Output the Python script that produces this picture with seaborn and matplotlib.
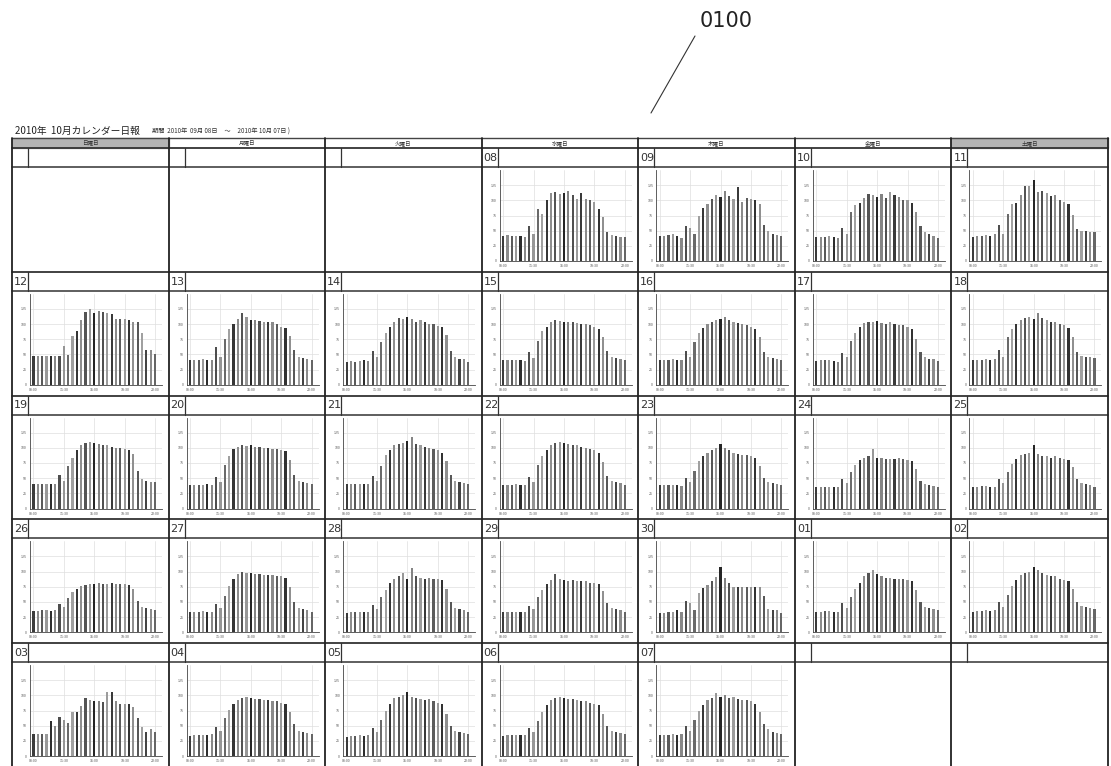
import matplotlib
matplotlib.use('Agg')
import matplotlib.pyplot as plt
import seaborn as sns

sns.set_style('white')
plt.rcParams['font.family'] = ['Noto Sans CJK JP', 'DejaVu Sans']

# Data
weekdays = ['日曜日', '月曜日', '火曜日', '水曜日', '木曜日', '金曜日', '土曜日']
slots = ['08:00', '08:30', '09:00', '09:30', '10:00', '10:30', '11:00', '11:30', '12:00', '12:30',
         '13:00', '13:30', '14:00', '14:30', '15:00', '15:30', '16:00', '16:30', '17:00', '17:30',
         '18:00', '18:30', '19:00', '19:30', '20:00', '20:30', '21:00', '21:30', '22:00']
x_ticklabels = ['08:00', '11:30', '15:00', '18:30', '22:00']
y_ticks = [0, 25, 50, 75, 100, 125]

d08 = [41, 43, 42, 42, 41, 40, 58, 45, 86, 78, 100, 112, 113, 110, 112, 116, 108, 102, 112, 103, 100, 98, 86, 72, 48, 43, 42, 40, 39]
d09 = [41, 41, 43, 45, 41, 38, 58, 54, 45, 75, 87, 94, 103, 108, 106, 115, 107, 103, 122, 97, 104, 102, 100, 94, 60, 50, 44, 43, 42]
d10 = [39, 40, 39, 41, 40, 38, 55, 44, 80, 92, 96, 104, 110, 108, 106, 110, 104, 113, 108, 106, 100, 101, 95, 80, 58, 48, 45, 42, 38]
d11 = [40, 42, 42, 43, 42, 44, 59, 45, 77, 94, 95, 108, 123, 123, 134, 113, 116, 112, 107, 108, 100, 98, 94, 76, 53, 50, 49, 48, 47]
d12 = [48, 48, 47, 47, 47, 47, 48, 64, 49, 80, 88, 106, 120, 125, 118, 122, 120, 118, 117, 109, 109, 108, 106, 104, 104, 85, 57, 58, 50]
d13 = [40, 41, 41, 42, 40, 40, 62, 45, 75, 92, 100, 108, 118, 112, 106, 106, 105, 104, 104, 103, 100, 96, 94, 80, 58, 46, 44, 42, 40]
d14 = [38, 39, 38, 39, 40, 39, 55, 45, 70, 85, 96, 104, 110, 108, 112, 108, 104, 106, 103, 100, 100, 97, 95, 82, 55, 45, 43, 42, 38]
d15 = [40, 40, 41, 41, 40, 39, 54, 44, 72, 88, 96, 104, 106, 105, 104, 103, 103, 102, 100, 100, 98, 95, 92, 78, 56, 46, 44, 43, 40]
d16 = [40, 41, 40, 42, 41, 40, 56, 46, 70, 86, 94, 100, 104, 106, 108, 112, 106, 103, 102, 100, 98, 96, 92, 78, 54, 46, 44, 42, 40]
d17 = [39, 40, 40, 41, 39, 38, 53, 45, 72, 86, 96, 102, 104, 104, 105, 102, 100, 104, 100, 98, 98, 95, 92, 76, 54, 45, 43, 42, 39]
d18 = [40, 41, 41, 42, 41, 42, 57, 46, 78, 92, 100, 106, 110, 112, 108, 118, 110, 106, 104, 104, 100, 98, 94, 78, 54, 48, 46, 45, 44]
d19 = [41, 41, 40, 41, 40, 41, 55, 46, 70, 84, 96, 104, 108, 110, 108, 106, 104, 104, 102, 100, 100, 98, 96, 90, 62, 48, 46, 44, 43]
d20 = [38, 39, 38, 39, 40, 38, 52, 44, 72, 86, 98, 102, 104, 103, 104, 102, 102, 100, 100, 98, 98, 96, 94, 80, 55, 46, 44, 42, 40]
d21 = [40, 40, 41, 40, 41, 40, 54, 45, 70, 88, 96, 104, 106, 108, 112, 118, 106, 104, 102, 100, 98, 96, 92, 78, 55, 46, 44, 42, 40]
d22 = [38, 39, 39, 40, 39, 38, 52, 44, 72, 86, 96, 104, 108, 110, 108, 106, 104, 104, 102, 100, 98, 96, 92, 76, 54, 45, 43, 42, 39]
d23 = [38, 38, 39, 39, 38, 37, 50, 44, 62, 78, 86, 92, 96, 100, 106, 100, 96, 92, 90, 88, 88, 86, 84, 70, 50, 44, 42, 40, 38]
d24 = [35, 36, 35, 36, 35, 35, 48, 42, 60, 72, 80, 84, 86, 98, 84, 84, 82, 82, 82, 84, 82, 80, 78, 65, 46, 40, 38, 37, 35]
d25 = [36, 36, 37, 37, 36, 36, 48, 42, 60, 74, 82, 88, 90, 92, 104, 90, 86, 86, 84, 86, 84, 82, 80, 68, 48, 42, 40, 38, 36]
d26 = [35, 35, 36, 36, 35, 36, 46, 42, 56, 66, 72, 76, 78, 80, 80, 82, 80, 80, 82, 80, 80, 80, 78, 72, 52, 42, 40, 38, 36]
d27 = [33, 34, 34, 35, 34, 34, 46, 40, 60, 76, 88, 96, 100, 98, 98, 96, 96, 94, 94, 95, 92, 92, 90, 75, 50, 40, 38, 36, 34]
d28 = [32, 33, 33, 34, 33, 33, 45, 38, 58, 70, 82, 88, 92, 98, 88, 106, 92, 90, 88, 90, 88, 88, 86, 72, 50, 40, 38, 36, 34]
d29 = [33, 33, 34, 34, 33, 33, 44, 39, 58, 70, 80, 86, 96, 88, 86, 85, 86, 84, 84, 85, 82, 82, 80, 68, 48, 40, 38, 36, 34]
d30 = [32, 32, 33, 34, 36, 33, 52, 49, 36, 65, 73, 78, 84, 91, 107, 89, 81, 74, 75, 75, 75, 75, 75, 75, 59, 39, 36, 36, 32]
d01 = [34, 34, 35, 35, 34, 34, 48, 40, 58, 72, 82, 92, 98, 102, 96, 92, 90, 90, 88, 88, 88, 86, 84, 70, 50, 42, 40, 38, 36]
d02 = [34, 35, 35, 36, 35, 36, 50, 42, 62, 76, 86, 94, 98, 100, 108, 102, 98, 94, 92, 92, 88, 86, 84, 72, 50, 44, 42, 40, 38]
d03 = [37, 36, 36, 36, 57, 49, 64, 59, 55, 72, 72, 83, 95, 93, 91, 91, 89, 106, 105, 91, 85, 85, 85, 81, 62, 47, 40, 44, 39]
d04 = [33, 34, 34, 35, 34, 36, 48, 42, 62, 76, 86, 92, 96, 98, 96, 94, 94, 92, 92, 90, 90, 88, 86, 72, 52, 42, 40, 38, 36]
d05 = [32, 33, 33, 34, 33, 34, 46, 40, 60, 74, 86, 96, 98, 100, 106, 98, 96, 94, 92, 94, 90, 88, 86, 70, 50, 42, 40, 38, 36]
d06 = [33, 34, 34, 35, 34, 35, 46, 40, 58, 72, 84, 92, 96, 98, 96, 94, 94, 92, 90, 90, 88, 86, 84, 70, 50, 42, 40, 38, 36]
d07 = [34, 35, 35, 36, 35, 36, 50, 42, 60, 74, 84, 92, 96, 104, 98, 100, 96, 98, 94, 92, 92, 90, 86, 72, 52, 44, 40, 38, 36]

day_labels = ['08', '09', '10', '11', '12', '13', '14', '15', '16', '17', '18', '19', '20', '21', '22',
              '23', '24', '25', '26', '27', '28', '29', '30', '01', '02', '03', '04', '05', '06', '07']
day_values = [d08, d09, d10, d11, d12, d13, d14, d15, d16, d17, d18, d19, d20, d21, d22,
              d23, d24, d25, d26, d27, d28, d29, d30, d01, d02, d03, d04, d05, d06, d07]
first_weekday = 3  # 2010-09-08 was a Wednesday

# bar shades (dark / light grays like the scanned print)
bar_shades = ['#3c3c3c', '#8c8c8c', '#5a5a5a', '#9a9a9a', '#2e2e2e', '#888888', '#4e4e4e', '#969696',
              '#6a6a6a', '#a0a0a0', '#363636', '#8e8e8e', '#545454', '#989898', '#262626', '#848484',
              '#505050', '#9c9c9c', '#3a3a3a', '#8a8a8a', '#5c5c5c', '#9a9a9a', '#323232', '#909090',
              '#585858', '#a0a0a0', '#444444', '#8c8c8c', '#666666']

W, H = 1111, 766
fig = plt.figure(figsize=(W / 100, H / 100), dpi=100)

bg = fig.add_axes([0, 0, 1, 1])
bg.set_xlim(0, W)
bg.set_ylim(H, 0)
bg.axis('off')

# callout label
bg.text(726, 21, '0100', fontsize=15, ha='center', va='center', color='#222222', family='DejaVu Sans')
bg.plot([695, 651], [36, 113], color='#333333', lw=0.8)

# title line
bg.text(15, 131, '2010年  10月カレンダー日報', fontsize=7, ha='left', va='center', color='#222222')
bg.text(152, 132, '期間  2010年  09月 08日     ～     2010年 10月 07日 )', fontsize=4.5,
        ha='left', va='center', color='#333333')

x0, x1 = 12, 1108
col_w = (x1 - x0) / 7
head_top, head_bot = 138, 148
row_h = 123.75
date_h = 19

# header row
for c, name in enumerate(weekdays):
    cx = x0 + c * col_w
    if c in (0, 6):
        bg.add_patch(plt.Rectangle((cx, head_top), col_w, head_bot - head_top, color='#b4b4b4', zorder=0))
    bg.text(cx + col_w / 2, (head_top + head_bot) / 2, name, fontsize=4, ha='center', va='center', color='#333333')

bg.plot([x0, x1], [head_top, head_top], color='#444444', lw=1.0)
for r in range(5):
    ry = head_bot + r * row_h
    bg.plot([x0, x1], [ry, ry], color='#333333', lw=1.3)
    bg.plot([x0, x1], [ry + date_h, ry + date_h], color='#333333', lw=1.1)
    for c in range(7):
        cx = x0 + c * col_w
        bg.plot([cx + 16, cx + 16], [ry, ry + date_h], color='#333333', lw=0.9)
for c in range(8):
    cx = x0 + c * col_w
    bg.plot([cx, cx], [head_top, H], color='#222222', lw=1.3)

# one small bar chart per day
for i, (lab, vals) in enumerate(zip(day_labels, day_values)):
    pos = i + first_weekday
    r, c = pos // 7, pos % 7
    cx = x0 + c * col_w
    ry = head_bot + r * row_h
    bg.text(cx + 2, ry + date_h / 2 + 0.5, lab, fontsize=8, ha='left', va='center', color='#333333',
            family='DejaVu Sans')

    ax_l, ax_t, ax_w, ax_h = cx + 18, ry + date_h + 3, 132, 91
    ax = fig.add_axes([ax_l / W, 1 - (ax_t + ax_h) / H, ax_w / W, ax_h / H])
    sns.barplot(x=slots, y=vals, hue=slots, palette=bar_shades, legend=False,
                width=0.5, errorbar=None, ax=ax, zorder=2, linewidth=0)
    ax.set_xlim(-0.8, 29.6)
    ax.set_ylim(0, 150)
    ax.set_xticks([0, 7, 14, 21, 28])
    ax.set_xticklabels(x_ticklabels)
    ax.set_yticks(y_ticks)
    ax.set_yticklabels([str(v) for v in y_ticks])
    ax.tick_params(labelsize=2.6, colors='#555555', length=1.2, width=0.4, pad=1)
    ax.grid(True, color='#dedede', lw=0.5, zorder=0)
    ax.set_axisbelow(True)
    ax.set_xlabel('')
    ax.set_ylabel('')
    for s in ['top', 'right']:
        ax.spines[s].set_visible(False)
    for s in ['left', 'bottom']:
        ax.spines[s].set_color('#444444')
        ax.spines[s].set_linewidth(0.6)

fig.savefig('out.png', dpi=100, facecolor='white')
